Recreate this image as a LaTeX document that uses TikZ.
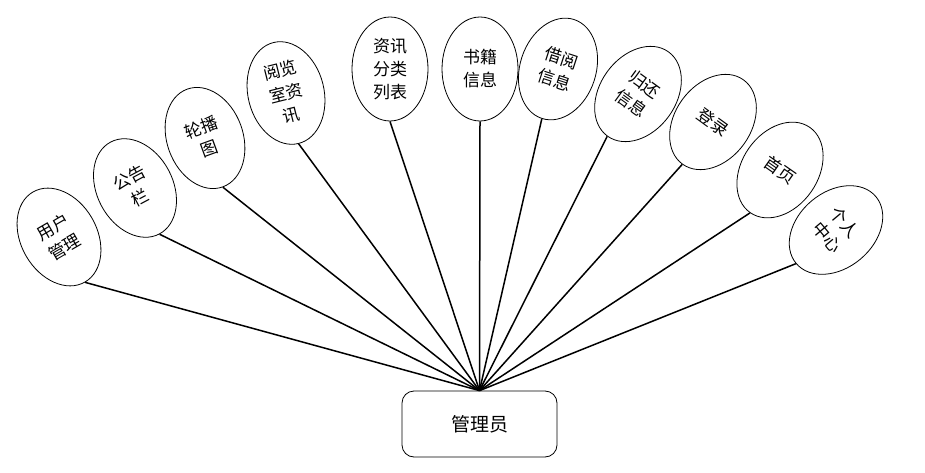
\documentclass[tikz,border=0pt]{standalone}
\usepackage{fontspec}
\setmainfont{Noto Sans CJK SC}
\usetikzlibrary{shapes.geometric}
\begin{document}
\begin{tikzpicture}[x=1pt,y=-1pt,
  leaf/.style={draw=black,line width=0.8pt,ellipse,minimum width=76pt,minimum height=104pt,inner sep=0pt,align=center,font=\fontsize{17}{23}\selectfont},
  root/.style={draw=black,line width=0.8pt,rounded corners=12pt,minimum width=155pt,minimum height=66pt,font=\fontsize{19}{22}\selectfont},
  link/.style={line width=1.5pt,black}]
\useasboundingbox (0,0) rectangle (925,473);
\node[root] (r) at (479.5,424) {管理员};
\node[leaf,rotate=30]  (n1)  at (59,237)  {用户\\管理};
\node[leaf,rotate=28]  (n2)  at (135,188) {公告\\栏};
\node[leaf,rotate=20]  (n3)  at (205,138) {轮播\\图};
\node[leaf,rotate=14]  (n4)  at (286,93)  {阅览\\室资\\讯};
\node[leaf]            (n5)  at (390,69)  {资讯\\分类\\列表};
\node[leaf]            (n6)  at (480,69)  {书籍\\信息};
\node[leaf,rotate=-18] (n7)  at (558,69)  {借阅\\信息};
\node[leaf,rotate=-36] (n8)  at (638,94)  {归还\\信息};
\node[leaf,rotate=-36] (n9)  at (713,122) {登录};
\node[leaf,rotate=-35] (n10) at (780,170) {首页};
\node[leaf,rotate=-50] (n11) at (836,230) {个人\\中心};
\foreach \i in {1,...,11}{\draw[link] (n\i.south) -- (r.north);}
\end{tikzpicture}
\end{document}
